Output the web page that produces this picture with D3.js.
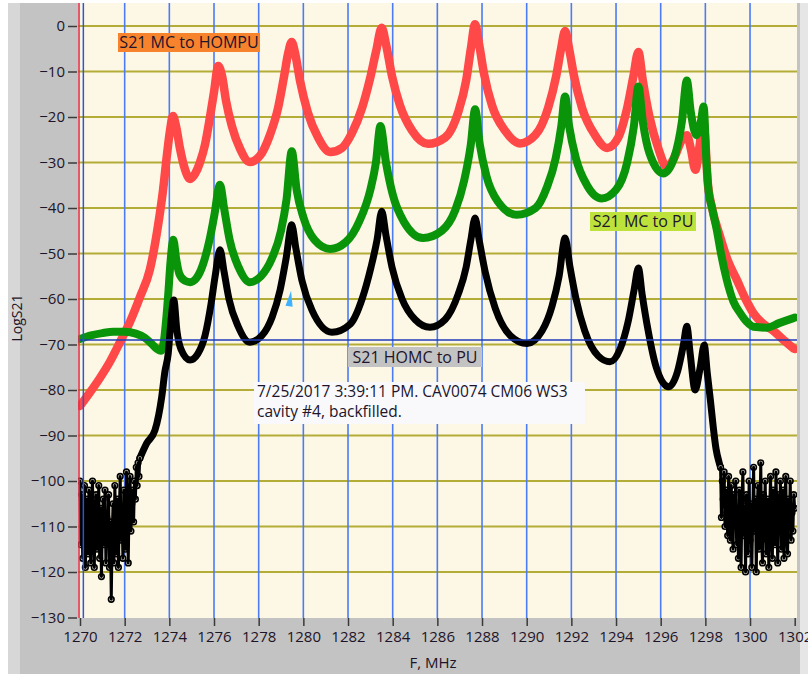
<!DOCTYPE html>
<html><head><meta charset="utf-8">
<script src="https://cdn.jsdelivr.net/npm/d3@7"></script>
<style>
html,body{margin:0;padding:0;background:#fff;}
svg{display:block;}
</style></head>
<body>
<svg id="chart" width="808" height="674"></svg>
<script>
// ---------- data ----------
const xTicks = [1270,1272,1274,1276,1278,1280,1282,1284,1286,1288,1290,1292,1294,1296,1298,1300,1302];
const yTicks = [0,-10,-20,-30,-40,-50,-60,-70,-80,-90,-100,-110,-120,-130];

// S21 MC to HOMPU (red)
const redData = [
 [1270.0,-83.5],[1270.45,-80.5],[1270.9,-77.3],[1271.34,-73.8],[1271.79,-69.5],[1272.24,-65],
 [1272.69,-59.5],[1273.13,-53.5],[1273.49,-44],[1273.72,-36],[1273.9,-28],[1274.03,-23],[1274.16,-19.8],
 [1274.3,-22],[1274.48,-27],[1274.7,-31.5],[1274.93,-33.6],[1275.15,-32.5],[1275.37,-30],[1275.6,-26],
 [1275.82,-20],[1276.0,-14.5],[1276.19,-8.8],[1276.36,-11],[1276.54,-16.5],[1276.8,-22],[1277.17,-27],
 [1277.6,-29.9],[1278.06,-28.5],[1278.5,-24],[1278.87,-18],[1279.14,-11],[1279.32,-6],[1279.48,-3.5],
 [1279.63,-6],[1279.85,-12],[1280.2,-19],[1280.66,-24.5],[1281.2,-27.7],[1281.73,-26.8],[1282.18,-23.5],
 [1282.63,-18],[1282.99,-11.5],[1283.26,-5.5],[1283.51,-0.4],[1283.7,-4],[1283.97,-11],[1284.33,-17.5],
 [1284.87,-23],[1285.58,-25.9],[1286.35,-24.5],[1286.93,-19],[1287.29,-12],[1287.5,-5],[1287.69,0.4],
 [1287.87,-4],[1288.09,-10.5],[1288.45,-17.5],[1289.03,-23],[1289.7,-25.8],[1290.38,-24],[1290.96,-18],
 [1291.32,-11],[1291.54,-5],[1291.72,-1.1],[1291.9,-5],[1292.12,-11],[1292.48,-18],[1293.06,-24],
 [1293.6,-26.8],[1294.1,-24.5],[1294.5,-18],[1294.78,-11],[1295.0,-5.7],[1295.2,-12],[1295.5,-20],
 [1295.9,-27],[1296.27,-31],[1296.6,-29],[1296.95,-25],[1297.17,-24],[1297.35,-27],[1297.55,-31.6],
 [1297.75,-26],[1297.9,-20],[1298.02,-27],[1298.1,-34],[1298.3,-40],[1298.66,-46.3],[1299.0,-51.5],
 [1299.41,-55.8],[1299.8,-60],[1300.15,-63.1],[1300.6,-65.5],[1301.05,-67],[1301.5,-69],[1301.94,-70.8],[1302.0,-71]
];

// S21 MC to PU (green)
const greenData = [
 [1270.0,-68.8],[1270.5,-68],[1271.0,-67.5],[1271.5,-67.2],[1272.0,-67.2],[1272.5,-67.6],[1272.9,-68.5],
 [1273.2,-69.8],[1273.45,-71],[1273.62,-71.4],[1273.75,-69.5],[1273.85,-65],[1273.95,-59],[1274.05,-52],
 [1274.18,-47],[1274.3,-51],[1274.45,-54.5],[1274.7,-56],[1274.93,-56.3],[1275.2,-55.5],[1275.5,-52.5],
 [1275.8,-47],[1276.0,-42],[1276.27,-34.9],[1276.45,-40],[1276.7,-47],[1277.1,-53],[1277.6,-56.3],
 [1278.1,-55],[1278.6,-51],[1279.0,-45],[1279.25,-38],[1279.48,-27.5],[1279.7,-36],[1280.0,-42],
 [1280.5,-47],[1281.2,-49],[1281.9,-47.5],[1282.5,-43],[1283.0,-36],[1283.25,-30],[1283.45,-22],
 [1283.7,-30],[1284.0,-37],[1284.5,-43],[1285.36,-46.6],[1286.2,-45],[1286.8,-40.5],[1287.2,-34],
 [1287.5,-26],[1287.69,-18.3],[1287.9,-26],[1288.2,-33],[1288.7,-38.5],[1289.55,-41.5],[1290.4,-40],
 [1290.9,-35.5],[1291.3,-29],[1291.55,-22],[1291.72,-15.5],[1291.9,-22],[1292.2,-29],[1292.7,-35],
 [1293.36,-37.9],[1294.0,-36],[1294.5,-30],[1294.8,-22],[1295.0,-13.3],[1295.2,-21],[1295.5,-28],
 [1296.12,-32.4],[1296.6,-29],[1296.95,-21],[1297.17,-12],[1297.35,-19],[1297.6,-24],[1297.8,-21],
 [1297.92,-17.7],[1298.05,-30],[1298.14,-36],[1298.3,-40],[1298.51,-44.8],[1298.7,-50],[1298.96,-55.8],
 [1299.25,-60.5],[1299.56,-63.1],[1299.85,-65],[1300.15,-66.1],[1300.75,-66.3],[1301.3,-65.3],[1301.94,-64.2],[1302.0,-64.1]
];

// S21 HOMC to PU (black): noise floor samples on the 0.04 MHz sweep grid
const sweepStep = 0.04;
const noiseLeftStart = 1270.00;
const blackNoiseLeft = [
 -100,-114,-103,-117,-106,-101,-119,-108,-104,-116,-102,-111,-118,-105,-100,-113,-119,-107,-103,-115,
 -109,-101,-117,-106,-121,-110,-104,-114,-102,-118,-108,-113,-103,-119,-109,-126,-112,-105,-118,-101,
 -110,-116,-104,-119,-107,-99,-113,-106,-117,-102,-109,-115,-98,-107,-118,-104,-99,-111,-105,-102,
 -109,-100,-104,-97,-101,-96,-99,-95
];
const noiseRightStart = 1298.68;
const blackNoiseRight = [
 -97,-108,-100,-104,-98,-110,-102,-107,-112,-99,-105,-113,-101,-109,-115,-103,-108,-100,-114,-106,
 -117,-102,-110,-119,-104,-98,-112,-107,-120,-103,-109,-116,-100,-113,-105,-119,-108,-97,-111,-104,
 -120,-106,-101,-115,-109,-96,-113,-118,-103,-108,-100,-116,-110,-104,-119,-106,-99,-112,-117,-102,
 -109,-114,-98,-107,-118,-103,-111,-100,-115,-108,-102,-117,-105,-99,-112,-116,-104,-109,-100,-113,
 -107,-111,-103,-106
];
// black passband
const blackMain = [
 [1272.68,-95],[1272.99,-91.7],[1273.36,-88.8],[1273.66,-81.5],[1273.8,-76],[1273.95,-72],[1274.07,-65],[1274.2,-60.2],
 [1274.34,-67],[1274.52,-71],[1274.93,-73.4],[1275.28,-72],[1275.6,-68],[1275.87,-61],[1276.05,-55],
 [1276.27,-49.2],[1276.45,-54],[1276.67,-60],[1277.08,-66],[1277.6,-69.5],[1278.15,-68],[1278.6,-64],
 [1278.96,-58],[1279.23,-51],[1279.48,-43.7],[1279.67,-49],[1279.94,-56],[1280.39,-62.5],[1281.28,-67.3],
 [1282.1,-65.5],[1282.63,-60],[1283.03,-53],[1283.3,-47],[1283.51,-40.7],[1283.7,-46],[1283.97,-53],
 [1284.42,-60],[1285.0,-64.5],[1285.67,-66.2],[1286.35,-64.5],[1286.93,-59],[1287.29,-53],[1287.5,-47],
 [1287.69,-42.2],[1287.87,-47],[1288.14,-54],[1288.59,-62],[1289.26,-68],[1290.02,-69.8],[1290.69,-67],
 [1291.14,-61.5],[1291.45,-55],[1291.72,-46.6],[1291.94,-53],[1292.21,-60],[1292.6,-67],[1293.2,-72.5],
 [1293.73,-73.8],[1294.18,-71],[1294.54,-65],[1294.81,-58],[1295.0,-53.2],[1295.17,-59],[1295.44,-67],
 [1295.8,-75],[1296.35,-79.3],[1296.75,-76],[1297.02,-70],[1297.17,-66],[1297.32,-72],[1297.54,-80],
 [1297.77,-75],[1297.95,-70.1],[1298.08,-76],[1298.22,-82],[1298.35,-88],[1298.48,-93],[1298.62,-96],[1298.68,-97]
];

const seriesNames = ["S21 MC to HOMPU","S21 MC to PU","S21 HOMC to PU"];
const noteLines = ["7/25/2017 3:39:11 PM. CAV0074 CM06 WS3","cavity #4, backfilled."];
const cursorPos = [1270.15,-69];

// ---------- drawing ----------
const svg = d3.select("#chart");
const FONT = "'Open Sans', 'Noto Sans', sans-serif";
const x = d3.scaleLinear().domain([1270,1302]).range([80,794.7]);
const y = d3.scaleLinear().domain([0,-130]).range([26,617.5]);
const plot = {l:78,t:3,r:797,b:618};

// frame backgrounds
svg.append("rect").attr("x",0).attr("y",0).attr("width",808).attr("height",674).attr("fill","#ffffff");
svg.append("rect").attr("x",8).attr("y",3).attr("width",12).attr("height",671).attr("fill","#d7d7d7");
svg.append("rect").attr("x",20).attr("y",3).attr("width",780).attr("height",671).attr("fill","#c3c3c3");
svg.append("rect").attr("x",800).attr("y",3).attr("width",8).attr("height",671).attr("fill","#e6e6e6");
svg.append("rect").attr("x",plot.l).attr("y",plot.t).attr("width",plot.r-plot.l).attr("height",plot.b-plot.t).attr("fill","#fdf8e6");

svg.append("clipPath").attr("id","pc").append("rect")
  .attr("x",plot.l).attr("y",plot.t).attr("width",plot.r-plot.l).attr("height",plot.b-plot.t);
const g = svg.append("g").attr("clip-path","url(#pc)");

// grid
g.selectAll("line.hg").data(yTicks.filter(v=>v>-130)).join("line")
  .attr("x1",plot.l).attr("x2",plot.r).attr("y1",d=>y(d)).attr("y2",d=>y(d))
  .attr("stroke","#b3ac36").attr("stroke-width",2);
g.selectAll("line.vg").data(xTicks.filter(v=>v>1270&&v<1302)).join("line")
  .attr("y1",plot.t).attr("y2",plot.b).attr("x1",d=>x(d)).attr("x2",d=>x(d))
  .attr("stroke","#4a7cf6").attr("stroke-width",1.6);

// series
const line = d3.line().x(d=>x(d[0])).y(d=>y(d[1])).curve(d3.curveMonotoneX);
const lineLin = d3.line().x(d=>x(d[0])).y(d=>y(d[1]));
function drawSeries(data,color,w,gen){
  g.append("path").datum(data).attr("d",gen||line).attr("fill","none")
   .attr("stroke",color).attr("stroke-width",w).attr("stroke-linejoin","round").attr("stroke-linecap","round");
}
drawSeries(redData,"#ff4848",8.5);
drawSeries(greenData,"#0a940a",8);
drawSeries(blackMain,"#000",7);

const leftPts = blackNoiseLeft.map((v,i)=>[noiseLeftStart+i*sweepStep,v]);
const rightPts = blackNoiseRight.map((v,i)=>[noiseRightStart+i*sweepStep,v]);
[leftPts,rightPts].forEach(pts=>{
  g.append("g").selectAll("circle").data(pts).join("circle")
    .attr("cx",d=>x(d[0])).attr("cy",d=>y(d[1])).attr("r",2.8)
    .attr("fill","#fdf8e6").attr("stroke","#000").attr("stroke-width",1.6);
  drawSeries(pts,"#000",3,lineLin);
});

// cursors
g.append("line").attr("x1",plot.l).attr("x2",plot.r).attr("y1",y(cursorPos[1])).attr("y2",y(cursorPos[1]))
  .attr("stroke","#1f3cb8").attr("stroke-width",1.5);
g.append("line").attr("x1",x(cursorPos[0])).attr("x2",x(cursorPos[0])).attr("y1",plot.t).attr("y2",plot.b)
  .attr("stroke","#2c55d8").attr("stroke-width",1.5);
svg.append("line").attr("x1",79).attr("x2",79).attr("y1",plot.t).attr("y2",plot.b)
  .attr("stroke","#e0304c").attr("stroke-width",1.6);
// small cursor flag
g.append("polygon").attr("points",[[x(1279.45),y(-58.2)],[x(1279.52),y(-61.7)],[x(1279.2),y(-61.5)]].map(p=>p.join(",")).join(" "))
  .attr("fill","#3fb2ff");

// axes
const yAxis = d3.axisLeft(y).tickValues(yTicks).tickSize(9).tickPadding(3).tickFormat(d3.format("d"));
const ya = svg.append("g").attr("transform","translate(77,0)").call(yAxis);
const xAxis = d3.axisBottom(x).tickValues(xTicks).tickSize(8).tickPadding(5).tickFormat(d3.format("d"));
const xa = svg.append("g").attr("transform",`translate(0,${plot.b})`).call(xAxis);
[ya,xa].forEach(a=>{
  a.select(".domain").remove();
  a.selectAll(".tick line").attr("stroke","#3a3a3a").attr("stroke-width",1.5);
  a.selectAll(".tick text").attr("fill","#1e1428").style("font-family",FONT).style("font-size","15px");
});

// axis titles
svg.append("text").attr("transform","translate(22,318) rotate(-90)").attr("text-anchor","middle")
  .style("font-family",FONT).style("font-size","14px").attr("fill","#1e1428").text("LogS21");
svg.append("text").attr("x",433).attr("y",668).attr("text-anchor","middle")
  .style("font-family",FONT).style("font-size","15px").attr("fill","#1e1428").text("F, MHz");

// series labels
function label(txt,x0,y0,w,h,bg){
  svg.append("rect").attr("x",x0).attr("y",y0).attr("width",w).attr("height",h).attr("fill",bg);
  svg.append("text").attr("x",x0+w/2).attr("y",y0+h/2).attr("dy","0.36em").attr("text-anchor","middle")
    .style("font-family",FONT).style("font-size","16px").attr("fill","#20142c").text(txt);
}
label(seriesNames[0],118,33,142,19,"#f7832c");
label(seriesNames[1],590,212,106,19,"#bde23c");
label(seriesNames[2],348,347,134,20,"#c3c3c3");

// note box
svg.append("rect").attr("x",254).attr("y",382).attr("width",331).attr("height",42).attr("fill","#f9f9fb");
noteLines.forEach((t,i)=>{
  svg.append("text").attr("x",257).attr("y",397+i*20)
    .style("font-family",FONT).style("font-size","15.5px").attr("fill","#20142c").text(t);
});
</script>
</body></html>
